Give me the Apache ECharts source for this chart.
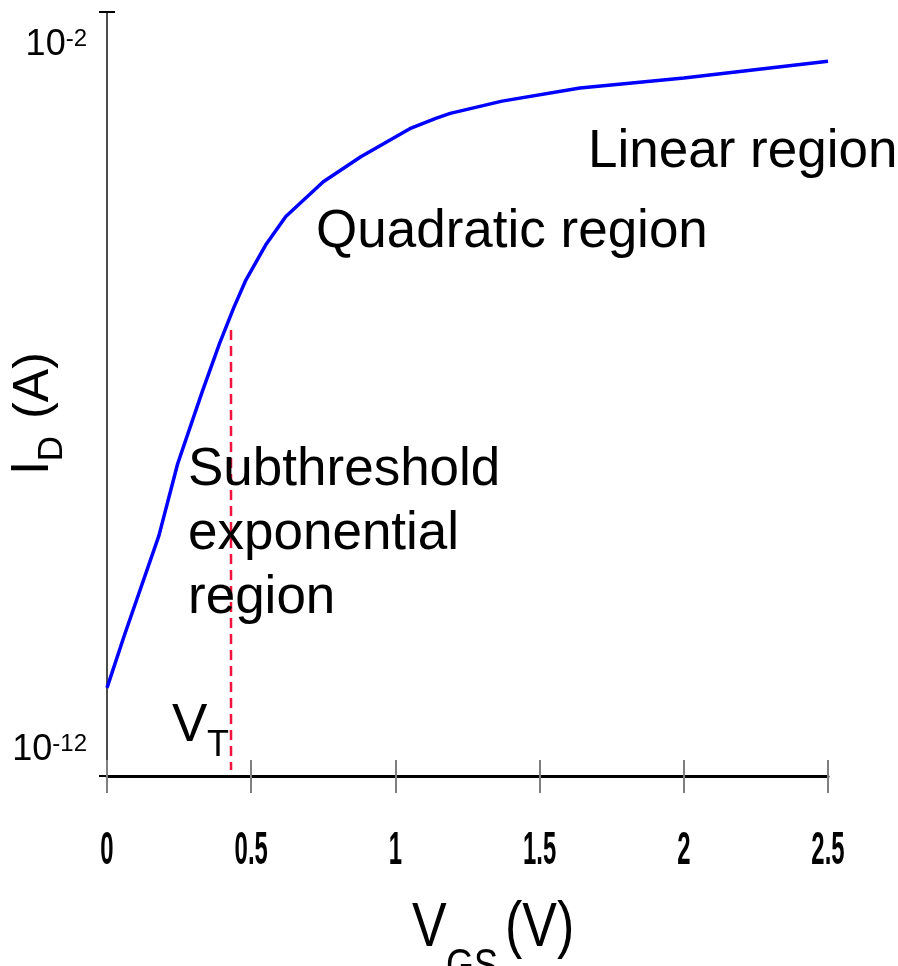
<!DOCTYPE html>
<html>
<head>
<meta charset="utf-8">
<script src="https://cdn.jsdelivr.net/npm/echarts@6/dist/echarts.min.js"></script>
<style>
  html, body { margin: 0; padding: 0; background: #ffffff; }
  #chart { width: 898px; height: 966px; }
</style>
</head>
<body>
<div id="chart"></div>
<script>
// ---- data ----
const vgs = [0, 0.06, 0.18, 0.245, 0.33, 0.39, 0.44, 0.48, 0.55, 0.62, 0.75, 0.88, 1.05, 1.14, 1.19, 1.37, 1.64, 2.0, 2.5];
const idAmps = [7.6e-12, 4.2e-11, 1.1e-9, 1.15e-8, 1.2e-7, 5.8e-7, 1.9e-6, 4.5e-6, 1.45e-5, 3.7e-5, 1.15e-4, 2.6e-4, 6.5e-4, 9.1e-4, 1.07e-3, 1.6e-3, 2.45e-3, 3.4e-3, 5.9e-3];
const xTickValues = [0, 0.5, 1, 1.5, 2, 2.5];
const xTickLabels = ['0', '0.5', '1', '1.5', '2', '2.5'];
const yTickExponents = [-2, -12];
const vtVolts = 0.43;
const vtLineCurrents = [9.1e-7, 5.2e-13];
const yMinAmps = Math.pow(10, -12.369);
const yMaxAmps = Math.pow(10, -1.532);

const FONT = "'Liberation Sans', Arial, sans-serif";

const chart = echarts.init(document.getElementById('chart'), null, { renderer: 'canvas' });

const curve = vgs.map((v, i) => [v, idAmps[i]]);
const vtLine = vtLineCurrents.map(c => [vtVolts, c]);

const option = {
  animation: false,
  backgroundColor: '#ffffff',
  grid: { left: 107, right: 70, top: 12, bottom: 190, containLabel: false },
  xAxis: [
    {
      type: 'value', min: 0, max: 2.5, interval: 0.5, position: 'bottom',
      axisLine: { show: true, onZero: false, lineStyle: { color: '#000000', width: 3 } },
      axisTick: { show: true, inside: false, length: 17, lineStyle: { color: '#808080', width: 2 } },
      axisLabel: { show: false },
      splitLine: { show: false }
    },
    {
      type: 'value', min: 0, max: 2.5, interval: 0.5, position: 'bottom',
      axisLine: { show: false, onZero: false },
      axisTick: { show: true, inside: true, length: 16, lineStyle: { color: '#808080', width: 2 } },
      axisLabel: { show: false },
      splitLine: { show: false }
    }
  ],
  yAxis: [
    {
      type: 'log', logBase: 10, min: yMinAmps, max: yMaxAmps, position: 'left',
      axisLine: { show: true, onZero: false, lineStyle: { color: '#111111', width: 1.5 } },
      axisTick: { show: false },
      splitLine: { show: false },
      axisLabel: { show: false }
    },
    {
      type: 'value', min: 0, max: 1, interval: 1, position: 'left',
      axisLine: { show: false, onZero: false },
      axisTick: { show: true, inside: false, length: 8, lineStyle: { color: '#000000', width: 2 } },
      axisLabel: { show: false },
      splitLine: { show: false }
    },
    {
      type: 'value', min: 0, max: 1, interval: 1, position: 'left',
      axisLine: { show: false, onZero: false },
      axisTick: { show: true, inside: true, length: 8, lineStyle: { color: '#000000', width: 2 } },
      axisLabel: { show: false },
      splitLine: { show: false }
    }
  ],
  series: [
    {
      name: 'VT', type: 'line', xAxisIndex: 0, yAxisIndex: 0,
      data: vtLine, symbol: 'none', z: 3,
      lineStyle: { color: '#f0143c', width: 2.5, type: [10, 6] }
    },
    {
      name: 'ID', type: 'line', xAxisIndex: 0, yAxisIndex: 0,
      data: curve, symbol: 'none', smooth: false, z: 4,
      lineStyle: { color: '#0000ff', width: 3.5 }
    }
  ]
};

chart.setOption(option);

const graphics = [];
// condensed x tick labels, positioned through the x scale
xTickValues.forEach((v, i) => {
  const px = chart.convertToPixel({ xAxisIndex: 0 }, v);
  graphics.push({
    type: 'text', x: px, y: 851, scaleX: 0.52, z: 10,
    style: { text: xTickLabels[i], font: 'bold 46px ' + FONT, fill: '#000000', align: 'center', verticalAlign: 'middle' }
  });
});
// y decade labels, positioned through the log y scale
yTickExponents.forEach(e => {
  const py = chart.convertToPixel({ yAxisIndex: 0 }, Math.pow(10, e));
  graphics.push({
    type: 'text', x: 87, y: py, z: 10,
    style: {
      text: '{b|10}{s|' + e + '}', align: 'right', verticalAlign: 'middle',
      rich: {
        b: { fontFamily: FONT, fontSize: 36, fill: '#000000' },
        s: { fontFamily: FONT, fontSize: 24, fill: '#000000', verticalAlign: 'top' }
      }
    }
  });
});

function txt(text, x, y, size, extra) {
  return Object.assign({
    type: 'text', x: x, y: y, z: 10,
    style: { text: text, font: size + 'px ' + FONT, fill: '#000000', align: 'left', verticalAlign: 'middle' }
  }, extra || {});
}

graphics.push(txt('Linear region', 588, 152, 53));
graphics.push(txt('Quadratic region', 316, 232, 53));
graphics.push({
  type: 'text', x: 188, y: 438, z: 10,
  style: { text: 'Subthreshold\nexponential\nregion', font: '53px ' + FONT, fill: '#000000', align: 'left', verticalAlign: 'top', lineHeight: 64 }
});
// V_T
graphics.push(txt('V', 172, 726, 53));
graphics.push(txt('T', 207, 746, 36));
// x axis title V_GS (V)
graphics.push(txt('V', 412, 929, 52, { scaleY: 1.22 }));
graphics.push(txt('GS', 446, 968, 36, { scaleY: 1.22 }));
graphics.push(txt('(V)', 505, 929, 52, { scaleY: 1.22 }));
// y axis title I_D (A), rotated
graphics.push({ type: 'text', x: 33, y: 468, rotation: Math.PI / 2, z: 10,
  style: { text: 'I', font: '53px ' + FONT, fill: '#000000', align: 'center', verticalAlign: 'middle' } });
graphics.push({ type: 'text', x: 52.5, y: 448.5, rotation: Math.PI / 2, z: 10,
  style: { text: 'D', font: '35px ' + FONT, fill: '#000000', align: 'center', verticalAlign: 'middle' } });
graphics.push({ type: 'text', x: 34, y: 385.5, rotation: Math.PI / 2, z: 10,
  style: { text: '(A)', font: '50px ' + FONT, fill: '#000000', align: 'center', verticalAlign: 'middle' } });

chart.setOption({ graphic: graphics });
</script>
</body>
</html>
